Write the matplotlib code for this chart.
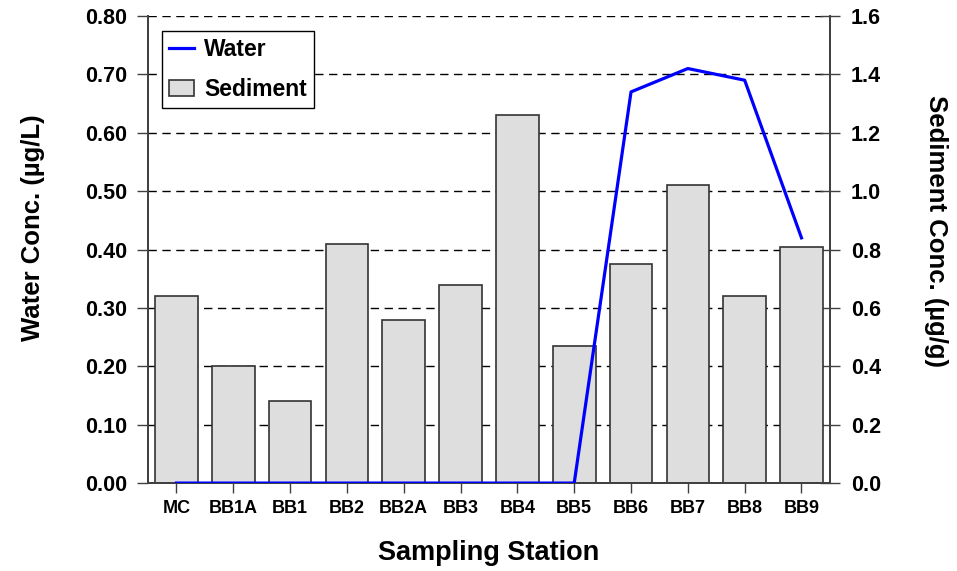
import matplotlib
matplotlib.use("Agg")
import matplotlib.pyplot as plt
import numpy as np

plt.rcParams['font.family'] = ['Liberation Sans', 'DejaVu Sans']
plt.rcParams['font.weight'] = 'bold'

stations = ['MC', 'BB1A', 'BB1', 'BB2', 'BB2A', 'BB3', 'BB4', 'BB5',
            'BB6', 'BB7', 'BB8', 'BB9']
water = [0, 0, 0, 0, 0, 0, 0, 0, 0.67, 0.71, 0.69, 0.42]
sediment = [0.64, 0.40, 0.28, 0.82, 0.56, 0.68, 1.26, 0.47,
            0.75, 1.02, 0.64, 0.81]
left_ticks = [0.0, 0.1, 0.2, 0.3, 0.4, 0.5, 0.6, 0.7, 0.8]
right_ticks = [0.0, 0.2, 0.4, 0.6, 0.8, 1.0, 1.2, 1.4, 1.6]

spine_c = '#404040'
x = np.arange(len(stations))

fig = plt.figure(figsize=(9.57, 5.71), dpi=100)
ax = fig.add_axes([0.1547, 0.154, 0.7125, 0.818])
ax2 = ax.twinx()

# bars on the right axis, drawn behind the line
ax2.bar(x, sediment, width=0.75, color='#dedede', edgecolor='#333333',
        linewidth=1.2, zorder=2, label='Sediment')
ax2.set_ylim(0, 1.6)
ax2.set_yticks(right_ticks)
ax2.set_yticklabels([f'{v:.1f}' for v in right_ticks])

ax.set_ylim(0, 0.8)
ax.set_xlim(-0.5, 11.5)
ax.set_yticks(left_ticks)
ax.set_yticklabels([f'{v:.2f}' for v in left_ticks])
for v in left_ticks[1:]:
    ax2.axhline(v * 2, color='black', lw=1, ls=(0, (6, 4)), zorder=1)

ax.set_zorder(ax2.get_zorder() + 1)
ax.patch.set_visible(False)
ln, = ax.plot(x, water, color='#0000ff', lw=2.3, zorder=5, label='Water')

ax.set_xticks(x)
ax.set_xticklabels(stations, fontsize=13, fontweight='bold')
ax.tick_params(axis='x', length=7, width=1, color=spine_c, pad=5)
ax.tick_params(axis='y', length=8, width=1, color=spine_c, labelsize=15.5, pad=7)
ax2.tick_params(axis='y', direction='inout', length=14, width=1,
                color=spine_c, labelsize=15.5, pad=8)

for a in (ax, ax2):
    a.spines['top'].set_visible(False)
    for s in ('left', 'right', 'bottom'):
        a.spines[s].set_color(spine_c)
        a.spines[s].set_linewidth(1.3)

ax.set_xlabel('Sampling Station', fontsize=19.5, fontweight='bold', labelpad=17)
ax.set_ylabel('Water Conc. (µg/L)', fontsize=18.5, fontweight='bold', labelpad=29)
ax2.set_ylabel('Sediment Conc. (µg/g)', fontsize=18.5, fontweight='bold',
               rotation=270, labelpad=48)
ax.yaxis.label.set_y(0.547)
ax2.yaxis.label.set_y(0.54)

bars = ax2.containers[0]
leg = ax.legend([ln, bars], ['Water', 'Sediment'], loc='upper left',
                bbox_to_anchor=(0.0205, 0.968), borderaxespad=0,
                frameon=True, fancybox=False, edgecolor='black', framealpha=1,
                handlelength=1.1, handleheight=0.65, handletextpad=0.44,
                borderpad=0.3, labelspacing=0.75,
                prop={'weight': 'bold', 'size': 16.5})
leg.get_frame().set_linewidth(1.0)

fig.savefig('out.png', dpi=100)
